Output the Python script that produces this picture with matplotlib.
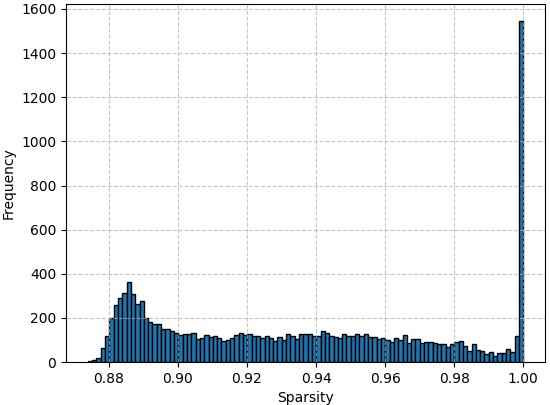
import numpy as np
import matplotlib
matplotlib.use("Agg")
import matplotlib.pyplot as plt

# Histogram counts (101 equal-width bins)
counts = [
    3, 10, 20, 63, 118, 201, 260, 292, 313, 361, 307, 265, 277, 201, 183, 171, 171,
    148, 148, 140, 130, 122, 127, 127, 130, 103, 107, 122, 115, 118, 107, 97, 100,
    107, 122, 133, 122, 125, 119, 118, 107, 119, 110, 97, 112, 100, 125, 119, 104,
    127, 127, 127, 118, 118, 140, 130, 119, 115, 110, 127, 119, 119, 127, 118, 127, 112,
    115, 104, 107, 100, 89, 107, 100, 122, 88, 103, 103, 88, 89, 89, 87, 82,
    82, 69, 82, 92, 97, 73, 50, 80, 54, 51, 36, 47, 27, 39, 39, 57, 44, 119, 1545,
]
sparsity_min = 0.8739
sparsity_max = 1.0

edges = np.linspace(sparsity_min, sparsity_max, len(counts) + 1)
widths = np.diff(edges)

fig = plt.figure(figsize=(5.5, 4.05), dpi=100)
ax = fig.add_axes([0.12, 0.106, 0.871, 0.884])
ax.bar(edges[:-1], counts, width=widths, align="edge", color="#1f77b4",
       edgecolor="black", linewidth=1.0)
ax.grid(True, linestyle="--", alpha=0.7)
ax.set_xticks([0.88, 0.90, 0.92, 0.94, 0.96, 0.98, 1.00])
ax.set_xticklabels(["0.88", "0.90", "0.92", "0.94", "0.96", "0.98", "1.00"])
ax.set_yticks(range(0, 1601, 200))
ax.set_xlabel("Sparsity")
ax.set_ylabel("Frequency")
fig.savefig("out.png", dpi=100)
